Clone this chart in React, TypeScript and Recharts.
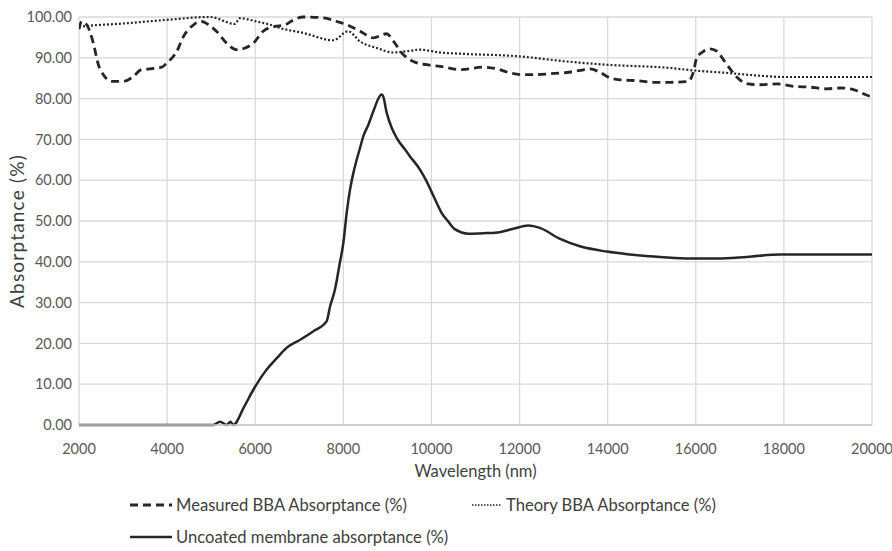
import React from 'react'
import { LineChart, Line, XAxis, YAxis, CartesianGrid, Label } from 'recharts'

const xTicks = [2000, 4000, 6000, 8000, 10000, 12000, 14000, 16000, 18000, 20000]
const yTicks = [0, 10, 20, 30, 40, 50, 60, 70, 80, 90, 100]

const measuredNm = [2000, 2060, 2175, 2325, 2440, 2550, 2740, 3040, 3230, 3420, 3610, 3880, 3990, 4220, 4370, 4600, 4790, 4940, 5120, 5350, 5580, 5770, 5960, 6180, 6300, 6450, 6680, 6870, 7090, 7550, 7850, 8080, 8380, 8680, 8985, 9140, 9360, 9590, 9890, 10200, 10650, 11180, 11480, 11780, 12010, 12390, 12690, 13070, 13370, 13600, 13830, 14050, 14280, 14660, 15040, 15420, 15830, 15950, 16020, 16140, 16320, 16480, 16630, 16820, 17000, 17190, 17460, 17840, 18220, 18600, 18970, 19280, 19580, 19920, 20000]
const measuredAbs = [97.0, 98.9, 98.1, 93.6, 88.3, 85.9, 84.2, 84.3, 85.4, 87.1, 87.3, 87.7, 88.7, 91.6, 95.2, 98.1, 98.9, 98.1, 96.5, 93.6, 92.0, 92.4, 93.6, 96.5, 97.3, 97.7, 98.1, 99.3, 100, 99.8, 98.9, 98.1, 96.5, 94.9, 95.9, 94.0, 90.8, 89.1, 88.3, 87.9, 87.1, 87.7, 87.3, 86.3, 85.9, 85.9, 86.1, 86.4, 86.9, 87.3, 86.4, 85.1, 84.6, 84.4, 84.0, 84.0, 84.2, 86.7, 90.0, 91.3, 92.2, 91.6, 89.5, 86.7, 84.6, 83.6, 83.4, 83.6, 83.0, 82.8, 82.4, 82.6, 82.2, 80.7, 80.5]

const theoryNm = [2000, 2175, 3000, 3990, 4970, 5540, 5650, 6030, 6340, 6560, 7090, 7770, 8110, 8380, 8760, 9140, 9440, 9740, 10200, 10650, 11940, 13070, 13980, 15420, 15950, 16700, 17460, 17990, 20000]
const theoryAbs = [97.6, 97.8, 98.4, 99.3, 100, 98.3, 99.7, 98.9, 98.1, 97.3, 96.1, 94.3, 96.5, 94.0, 92.4, 91.3, 91.6, 92.0, 91.3, 91.0, 90.4, 89.1, 88.3, 87.5, 86.9, 86.3, 85.6, 85.3, 85.3]

const uncoatedNm = [2000, 3000, 4000, 4750, 5050, 5200, 5350, 5440, 5500, 5750, 5960, 6260, 6500, 6710, 7020, 7320, 7620, 7700, 7810, 7920, 8000, 8076, 8152, 8228, 8303, 8379, 8454, 8568, 8681, 8833, 8870, 8900, 8985, 9100, 9210, 9400, 9510, 9740, 9890, 10000, 10120, 10230, 10380, 10530, 10840, 11180, 11500, 11860, 12200, 12460, 12920, 13370, 13980, 14500, 15270, 15870, 16480, 17160, 17910, 20000]
const uncoatedAbs = [0, 0, 0, 0, 0, 0.8, 0, 0.8, 0, 4.5, 8.7, 13.6, 16.5, 18.9, 20.9, 23.0, 25.4, 29.1, 33.2, 39.7, 44.6, 52.0, 57.7, 61.8, 65.0, 67.9, 70.8, 73.6, 76.9, 80.7, 81.0, 80.7, 76.5, 72.8, 70.4, 67.5, 65.9, 62.6, 59.7, 57.2, 54.4, 52.0, 49.9, 48.0, 46.9, 47.0, 47.2, 48.1, 48.9, 48.3, 45.6, 43.8, 42.5, 41.8, 41.1, 40.8, 40.8, 41.2, 41.8, 41.8]

const zip = (xs: number[], ys: number[]) => xs.map((x, i) => ({ x, y: ys[i] }))

const measured = zip(measuredNm, measuredAbs)
const theory = zip(theoryNm, theoryAbs)
const uncoated = zip(uncoatedNm, uncoatedAbs)

const font = 'Lato, "Open Sans", sans-serif'
const ink = '#262626'

const LegendItem = ({ dash, width, text, left, top, sw }: { dash?: string; width: number; text: string; left: number; top: number; sw: number }) => (
    <div style={{ position: 'absolute', left, top, display: 'flex', alignItems: 'center', height: 20 }}>
        <svg width={width} height={6} style={{ marginRight: 4 }}>
            <line x1={0} y1={3} x2={width} y2={3} stroke={ink} strokeWidth={sw} strokeDasharray={dash} />
        </svg>
        <span style={{ fontFamily: font, fontSize: 16.6, color: '#404040', whiteSpace: 'nowrap' }}>{text}</span>
    </div>
)

export default function App() {
    return (
        <div style={{ position: 'absolute', left: 0, top: 0, width: 892, height: 551, background: '#fff' }}>
            <LineChart width={892} height={551} margin={{ top: 17, right: 20, left: 0, bottom: 35 }}>
                <CartesianGrid stroke="#d9d9d9" strokeWidth={1.3} />
                <XAxis
                    type="number"
                    dataKey="x"
                    domain={[2000, 20000]}
                    ticks={xTicks}
                    height={91}
                    tickLine={false}
                    axisLine={{ stroke: '#c8c8c8', strokeWidth: 1.3 }}
                    tick={{ fontSize: 14.5, fill: '#595959', fontFamily: font }}
                    tickMargin={13}
                    allowDataOverflow
                >
                    <Label value="Wavelength (nm)" position="center" dy={1} style={{ fontSize: 16.5, fill: '#404040', fontFamily: font }} />
                </XAxis>
                <YAxis
                    type="number"
                    domain={[0, 100]}
                    ticks={yTicks}
                    width={79}
                    tickLine={false}
                    axisLine={false}
                    tickFormatter={(v: number) => v.toFixed(2)}
                    tick={{ fontSize: 14.5, fill: '#595959', fontFamily: font }}
                    tickMargin={1}
                >
                    <Label value="Absorptance (%)" angle={-90} position="center" dx={-22} dy={10} style={{ fontSize: 19, letterSpacing: 1.2, fill: '#404040', fontFamily: font }} />
                </YAxis>
                <Line data={uncoated} dataKey="y" type="monotone" stroke={ink} strokeWidth={2.5} dot={false} isAnimationActive={false} />
                <Line data={theory} dataKey="y" type="monotone" stroke={ink} strokeWidth={2.2} strokeDasharray="2 2" dot={false} isAnimationActive={false} />
                <Line data={measured} dataKey="y" type="monotone" stroke={ink} strokeWidth={2.8} strokeDasharray="8 5" dot={false} isAnimationActive={false} />
            </LineChart>
            <LegendItem dash="8 5" width={42} sw={2.8} text="Measured BBA Absorptance (%)" left={130} top={495} />
            <LegendItem dash="1.5 1.5" width={30} sw={1.6} text="Theory BBA Absorptance (%)" left={472} top={495} />
            <LegendItem width={42} sw={2.5} text="Uncoated membrane absorptance (%)" left={130} top={527} />
        </div>
    )
}
